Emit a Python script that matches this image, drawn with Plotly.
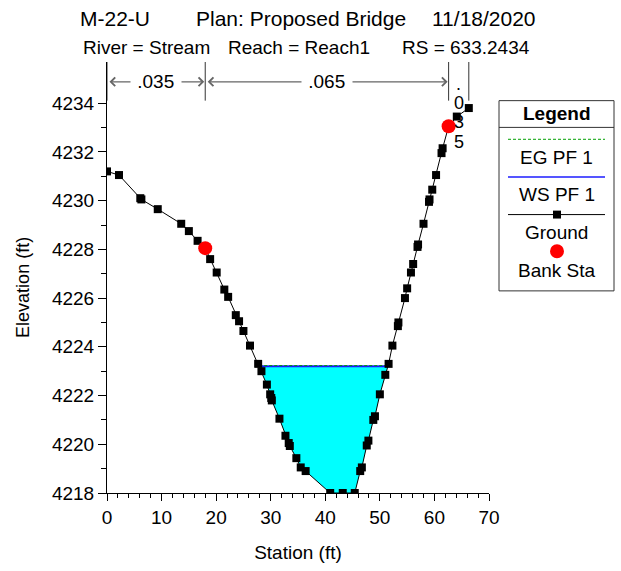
import plotly.graph_objects as go

# Cross-section geometry
station = [0.0, 2.2, 6.1, 6.3, 9.3, 13.6, 15.0, 16.6, 18.0, 18.9, 20.1, 21.5, 22.2,
           23.6, 24.2, 25.0, 26.2, 27.7, 28.3, 29.3, 29.9, 30.1, 30.2, 31.6, 32.7,
           33.3, 33.5, 34.7, 35.5, 36.4, 40.9, 43.2, 45.4, 46.4, 46.7, 47.6, 47.9,
           48.8, 49.1, 50.0, 51.0, 51.6, 52.3, 53.3, 53.4, 54.6, 55.0, 55.7, 56.1,
           56.9, 57.0, 58.0, 59.0, 59.1, 59.6, 60.3, 61.3, 61.5, 62.6, 64.1, 66.3]
elevation = [4231.20, 4231.05, 4230.10, 4230.05, 4229.65, 4229.05, 4228.75, 4228.35,
             4228.05, 4227.60, 4227.05, 4226.35, 4226.05, 4225.30, 4225.05, 4224.65,
             4224.05, 4223.30, 4223.00, 4222.45, 4222.05, 4221.90, 4221.80, 4221.05,
             4220.35, 4220.05, 4219.93, 4219.43, 4219.05, 4218.90, 4218.00, 4218.00,
             4218.00, 4218.90, 4219.05, 4219.95, 4220.15, 4221.00, 4221.15, 4222.05,
             4222.85, 4223.30, 4224.05, 4224.85, 4225.00, 4226.00, 4226.40, 4227.05,
             4227.40, 4228.10, 4228.20, 4229.05, 4229.95, 4230.05, 4230.45, 4231.05,
             4231.95, 4232.15, 4233.05, 4233.45, 4233.80]

bank_station = [18.0, 62.6]
bank_elevation = [4228.05, 4233.05]

ws_elev = 4223.20   # WS PF 1
eg_elev = 4223.23   # EG PF 1

n_values = [".035", ".065", ".035"]

x_ticks = [0, 10, 20, 30, 40, 50, 60, 70]
y_ticks = [4218, 4220, 4222, 4224, 4226, 4228, 4230, 4232, 4234]
y_minor = [4219, 4221, 4223, 4225, 4227, 4229, 4231, 4233]

FONT = "Liberation Sans, Arial, sans-serif"

# plot area in pixels (figure is 621 x 571)
L, R, T, B = 107, 489, 62, 497
W, H = 621, 571


def px(x):
    return (x - L) / (R - L)


def py(y):
    return (B - y) / (B - T)


def wetted_polygon(sta, elev, ws):
    """Points of the ground below the water surface plus the two edge crossings."""
    xs, ys = [], []
    for i in range(len(sta) - 1):
        s0, s1, e0, e1 = sta[i], sta[i + 1], elev[i], elev[i + 1]
        if e0 < ws:
            xs.append(s0)
            ys.append(e0)
        if (e0 - ws) * (e1 - ws) < 0:
            xc = s0 + (ws - e0) * (s1 - s0) / (e1 - e0)
            xs.append(xc)
            ys.append(ws)
    return xs, ys


wx, wy = wetted_polygon(station, elevation, ws_elev)
left_edge, right_edge = min(wx), max(wx)

fig = go.Figure()

# water area
fig.add_trace(go.Scatter(x=wx + [wx[0]], y=wy + [wy[0]], mode="lines", fill="toself",
                         fillcolor="#00FFFF", line=dict(width=0), hoverinfo="skip",
                         showlegend=False))
# water surface
fig.add_trace(go.Scatter(x=[left_edge, right_edge], y=[ws_elev, ws_elev], mode="lines",
                         line=dict(color="#1a1aff", width=2), showlegend=False))
# energy grade
fig.add_trace(go.Scatter(x=[left_edge, right_edge], y=[eg_elev, eg_elev], mode="lines",
                         line=dict(color="#00a000", width=1, dash="3px,2px"),
                         showlegend=False))
# ground
fig.add_trace(go.Scatter(x=station, y=elevation, mode="lines+markers",
                         line=dict(color="black", width=1),
                         marker=dict(symbol="square", size=8, color="black"),
                         showlegend=False))
# bank stations
fig.add_trace(go.Scatter(x=bank_station, y=bank_elevation, mode="markers",
                         marker=dict(symbol="circle", size=14, color="#FF0000"),
                         showlegend=False))

shapes = []
annotations = []

# Manning's n regions along the top
bounds = [station[0]] + bank_station + [station[-1]]
for b in bounds:
    shapes.append(dict(type="line", xref="x", yref="paper", x0=b, x1=b,
                       y0=py(101), y1=1.0, line=dict(color="#333333", width=1)))
arrow_y = py(82)
for i in range(2):
    x0, x1 = bounds[i], bounds[i + 1]
    annotations.append(dict(x=x1, y=arrow_y, ax=x0, ay=0, xref="x", yref="paper",
                            axref="x", ayref="pixel", text="", showarrow=True,
                            arrowside="end+start", arrowhead=4, startarrowhead=4,
                            arrowsize=1.4, arrowwidth=1.2, arrowcolor="#666666",
                            standoff=1, startstandoff=1))
    annotations.append(dict(x=(x0 + x1) / 2, y=arrow_y, xref="x", yref="paper",
                            text=" " + n_values[i] + " ", showarrow=False,
                            bgcolor="white", font=dict(family=FONT, size=19, color="black"),
                            xanchor="center", yanchor="middle"))
# the right overbank is too narrow, so its value is written top to bottom
for k, ch in enumerate(n_values[2]):
    annotations.append(dict(x=(bounds[2] + bounds[3]) / 2, y=py(84 + 19.5 * k),
                            xref="x", yref="paper", text=ch, showarrow=False,
                            font=dict(family=FONT, size=18, color="black"),
                            xanchor="center", yanchor="middle"))

# titles
for txt, cx, cy, sz in [("M-22-U", 115, 18, 21), ("Plan: Proposed Bridge", 301, 18, 21),
                        ("11/18/2020", 484, 18, 21),
                        ("River = Stream", 146, 47, 19), ("Reach = Reach1", 299, 47, 19),
                        ("RS = 633.2434", 466, 47, 19)]:
    annotations.append(dict(x=px(cx), y=py(cy), xref="paper", yref="paper", text=txt,
                            showarrow=False, xanchor="center", yanchor="middle",
                            font=dict(family=FONT, size=sz, color="black")))

# vertical axis title
annotations.append(dict(x=px(23), y=py(290), xref="paper", yref="paper",
                        text="Elevation (ft)", textangle=-90, showarrow=False,
                        xanchor="center", yanchor="middle",
                        font=dict(family=FONT, size=18, color="black")))

# legend box
lx0, lx1 = 499, 614
shapes.append(dict(type="rect", xref="paper", yref="paper", x0=px(lx0), x1=px(lx1),
                   y0=py(293), y1=py(101), line=dict(color="#333333", width=1),
                   fillcolor="white"))
shapes.append(dict(type="line", xref="paper", yref="paper", x0=px(lx0), x1=px(lx1),
                   y0=py(128), y1=py(128), line=dict(color="#333333", width=1)))
shapes.append(dict(type="line", xref="paper", yref="paper", x0=px(508), x1=px(605),
                   y0=py(140), y1=py(140),
                   line=dict(color="#00a000", width=1, dash="3px,2px")))
shapes.append(dict(type="line", xref="paper", yref="paper", x0=px(508), x1=px(605),
                   y0=py(178), y1=py(178), line=dict(color="#5555ff", width=2)))
shapes.append(dict(type="line", xref="paper", yref="paper", x0=px(508), x1=px(605),
                   y0=py(216), y1=py(216), line=dict(color="black", width=1)))
shapes.append(dict(type="rect", xref="paper", yref="paper", x0=px(553), x1=px(561),
                   y0=py(220), y1=py(212), line=dict(width=0), fillcolor="black"))
shapes.append(dict(type="circle", xref="paper", yref="paper", x0=px(550), x1=px(564),
                   y0=py(260), y1=py(246), line=dict(width=0), fillcolor="#FF0000"))
lc = (lx0 + lx1) / 2
for txt, cy, bold in [("Legend", 114, True), ("EG PF 1", 158, False), ("WS PF 1", 196, False),
                      ("Ground", 234, False), ("Bank Sta", 272, False)]:
    annotations.append(dict(x=px(lc), y=py(cy), xref="paper", yref="paper",
                            text=f"<b>{txt}</b>" if bold else txt, showarrow=False,
                            xanchor="center", yanchor="middle",
                            font=dict(family=FONT, size=19, color="black")))

fig.update_layout(
    width=W, height=H,
    margin=dict(l=L, r=W - R, t=T, b=H - B, pad=0),
    paper_bgcolor="white", plot_bgcolor="white",
    shapes=shapes, annotations=annotations,
    font=dict(family=FONT, size=19, color="black"),
    xaxis=dict(range=[0, 70], tickvals=x_ticks, ticks="outside", ticklen=7, tickwidth=1,
               tickcolor="black", showline=True, linecolor="black", linewidth=1,
               showgrid=False, zeroline=False, tickfont=dict(size=19),
               minor=dict(dtick=2, ticks="outside", ticklen=4, tickcolor="black"),
               title=dict(text="Station (ft)", font=dict(size=19), standoff=18)),
    yaxis=dict(range=[4218, 4218 + (B - T) / 24.59], tickvals=y_ticks, ticks="outside",
               ticklen=8, tickwidth=1, tickcolor="black", showline=True, linecolor="black",
               linewidth=1, showgrid=False, zeroline=False, tickfont=dict(size=19),
               minor=dict(tickvals=y_minor, ticks="outside", ticklen=5, tickcolor="black")),
)

fig.write_html("out.html")
